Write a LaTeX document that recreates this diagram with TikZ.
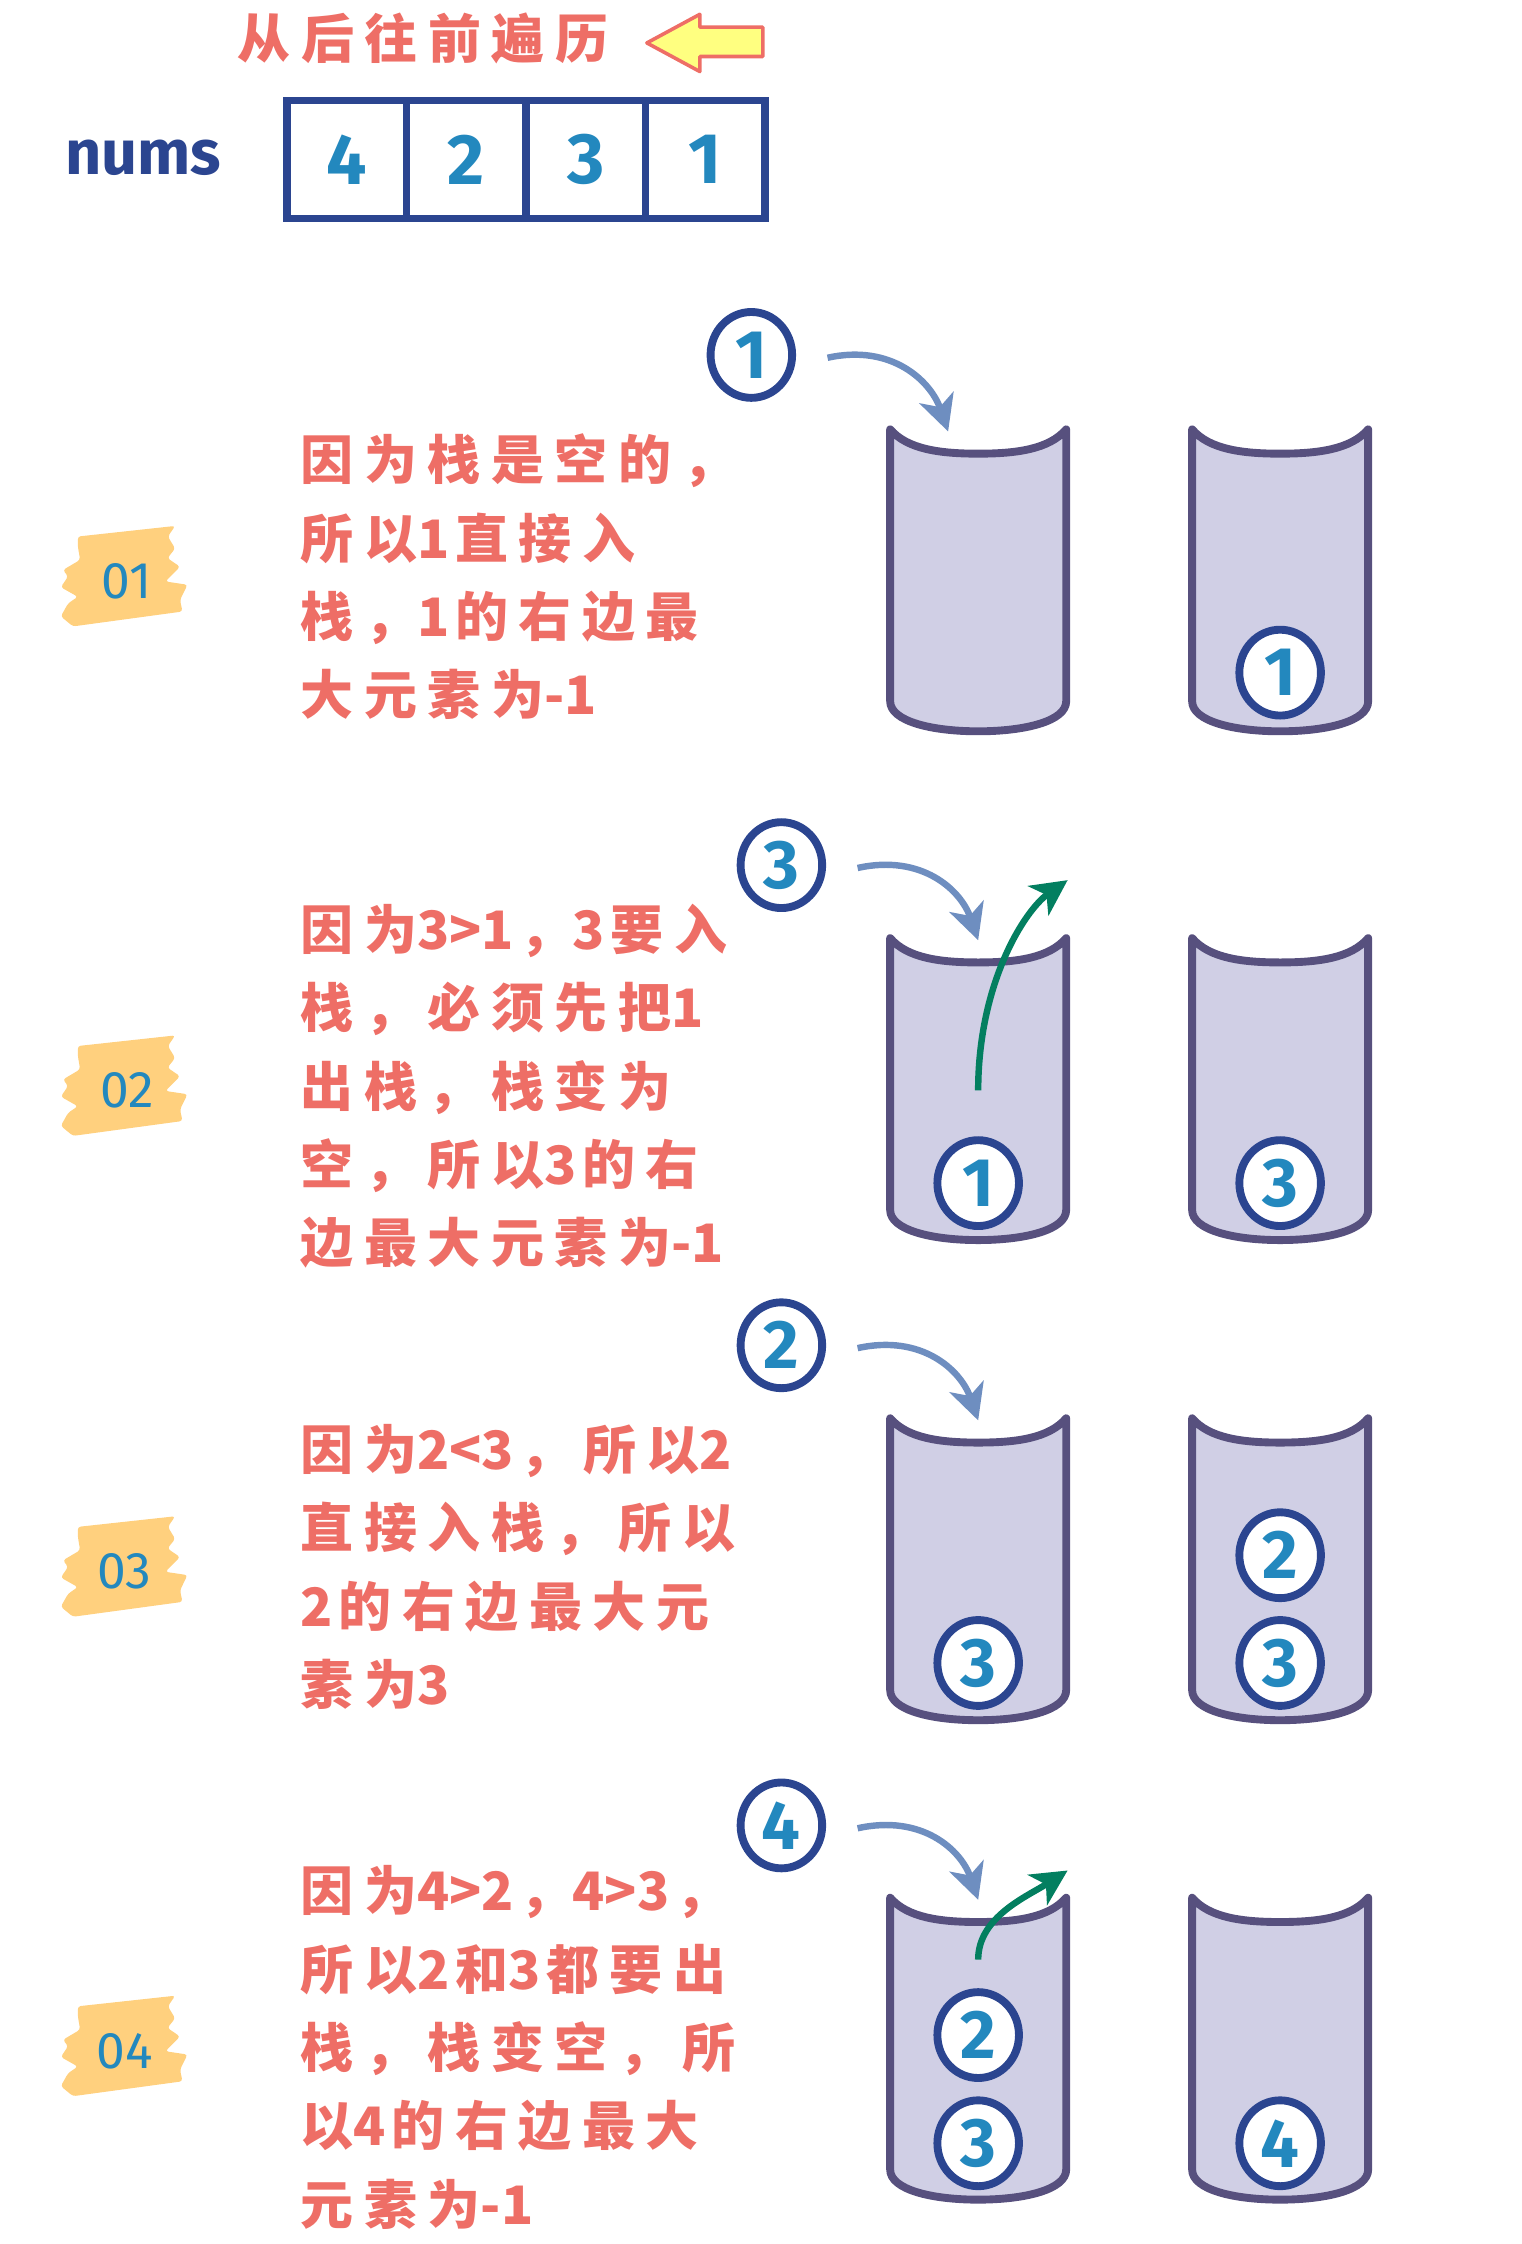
\documentclass[tikz,border=0pt]{standalone}
\usepackage{fontspec}
\setmainfont{Fira Sans}
\newfontfamily\cjk[LetterSpace=20]{Noto Sans CJK SC}
\newfontfamily\cjkplain{Noto Sans CJK SC}
\newcommand{\lat}[1]{{\cjkplain\bfseries #1}\kern4pt}
\usetikzlibrary{positioning, arrows.meta, shapes.geometric}
\definecolor{notered}{HTML}{EE6E66}
\definecolor{navy}{HTML}{2B4590}
\definecolor{digit}{HTML}{2388BE}
\definecolor{stackline}{HTML}{57507E}
\definecolor{stackfill}{HTML}{D0CFE5}
\definecolor{pushblue}{HTML}{6E8EC0}
\definecolor{popgreen}{HTML}{037F60}
\definecolor{tapefill}{HTML}{FFD07E}
\definecolor{hintfill}{HTML}{FFFF80}
\tikzset{
  note/.style={anchor=north west, inner sep=0pt, align=left, text=notered,
               font=\cjk\bfseries\fontsize{37pt}{54.7pt}\selectfont},
  headline/.style={anchor=west, inner sep=0pt, text=notered,
               font=\cjk\bfseries\fontsize{37pt}{37pt}\selectfont},
  ball/.style={ellipse, draw=navy, line width=5.5pt, fill=white, inner sep=0pt,
               minimum width=57pt, minimum height=60pt, text=digit,
               font=\bfseries\fontsize{48pt}{48pt}\selectfont},
  cell/.style={draw=navy, line width=5pt, minimum width=83.5pt, minimum height=82pt,
               inner sep=0pt, outer sep=0pt, text=digit,
               font=\bfseries\fontsize{50pt}{50pt}\selectfont},
  tag/.style={text=digit, inner sep=0pt, font=\fontsize{36pt}{36pt}\selectfont},
  push/.style={-{Stealth[length=25pt, width=25pt, inset=7pt]}, line width=4.5pt, draw=pushblue},
  pop/.style={-{Stealth[length=25pt, width=25pt, inset=7pt]}, line width=4.5pt, draw=popgreen},
  stackbody/.style={draw=stackline, fill=stackfill, line width=5.5pt, line join=round},
  stack/.pic={
    \path[stackbody] (0,0) .. controls (12,14) and (35,17) .. (61.5,17)
      .. controls (88,17) and (111,14) .. (123,0) -- (123,190)
      .. controls (123,204) and (94,211) .. (61.5,211)
      .. controls (29,211) and (0,204) .. (0,190) -- cycle;
    \coordinate (-rim) at (61.5,1.5);
  },
  tape/.pic={
    \fill[tapefill, rounded corners=2pt] (-33.6,-28.1) -- (34.4,-35.5) -- (29.3,-28.1)
      -- (34.4,-19.7) -- (29,-13) -- (37.8,-7) -- (27.6,3.3) -- (43,5.6) -- (37.8,16.2)
      -- (39.5,24.3) -- (-37,34.7) -- (-45.5,27.7) -- (-40.4,18.6) -- (-33.6,14)
      -- (-45.5,7.3) -- (-40.4,-0.2) -- (-44,-4.7) -- (-32,-11.8) -- (-33.6,-21.1) -- cycle;
  },
}
\begin{document}
\begin{tikzpicture}[x=1pt, y=-1pt]
\useasboundingbox (0,0) rectangle (1063,1568);
% header
\node[headline] (head) at (166,27) {从后往前遍历};
\draw[draw=notered, fill=hintfill, line width=2.5pt, line join=round]
  (452,30) -- (489,10) -- (489,19) -- (533,19) -- (533,39.5) -- (489,39.5) -- (489,50) -- cycle;
\node[text=navy, font=\bfseries\fontsize{44pt}{44pt}\selectfont] (nums) at (100,110) {nums};
\node[cell] (c1) at (242.25,111.5) {4};
\node[cell, right=0pt of c1] (c2) {2};
\node[cell, right=0pt of c2] (c3) {3};
\node[cell, right=0pt of c3] (c4) {1};

% step 01
\pic at (88,403) {tape};
\node[tag] (l1) at (88.5,406) {01};
\node[note] (n1) at (210,303) {因为栈是空的，\\所以\lat{1}直接入\\栈，\lat{1}的右边最\\大元素为\lat{-1}};
\pic (p1l) at (622,300) {stack};
\pic (p1r) at (833,300) {stack};
\node[ball] (a1) at (525,248) {1};
\node[ball] (s1r) at (894.5,470) {1};
\draw[push] ([shift={(22,2)}]a1.east) .. controls +(45,-10) and +(-12,-35) .. ([xshift=-21pt]p1l-rim);

% step 02
\pic at (88,759) {tape};
\node[tag] (l2) at (89,762) {02};
\node[note] (n2) at (210,631.5) {因为\lat{3>1}，\lat{3}要入\\栈，必须先把\lat{1}\\出栈，栈变为\\空，所以\lat{3}的右\\边最大元素为\lat{-1}};
\pic (p2l) at (622,655.5) {stack};
\pic (p2r) at (833,655.5) {stack};
\node[ball] (a2) at (546,604.5) {3};
\node[ball] (s2l) at (683.5,826.7) {1};
\node[ball] (s2r) at (894.5,826.7) {3};
\coordinate (out2) at (746,615);
\draw[push] ([shift={(22,2)}]a2.east) .. controls +(45,-10) and +(-12,-35) .. (p2l-rim);
\draw[pop] ([shift={(0,-32)}]s2l.north) .. controls +(0,-75) and +(-30,21) .. (out2);

% step 03
\pic at (88,1095) {tape};
\node[tag] (l3) at (87,1098) {03};
\node[note] (n3) at (210,995) {因为\lat{2<3}，所以\lat{2}\\直接入栈，所以\\\lat{2}的右边最大元\\素为\lat{3}};
\pic (p3l) at (622,991) {stack};
\pic (p3r) at (833,991) {stack};
\node[ball] (a3) at (546,940) {2};
\node[ball] (s3l) at (683.5,1162) {3};
\node[ball] (s3r) at (894.5,1162) {3};
\node[ball] (s3t) at (894.5,1086.7) {2};
\draw[push] ([shift={(22,2)}]a3.east) .. controls +(45,-10) and +(-12,-35) .. (p3l-rim);

% step 04
\pic at (88,1430) {tape};
\node[tag] (l4) at (87,1433) {04};
\node[note] (n4) at (210,1303.5) {因为\lat{4>2}，\lat{4>3}，\\所以\lat{2}和\lat{3}都要出\\栈，栈变空，所\\以\lat{4}的右边最大\\元素为\lat{-1}};
\pic (p4l) at (622,1326) {stack};
\pic (p4r) at (833,1326) {stack};
\node[ball] (a4) at (546,1275.5) {4};
\node[ball] (s4b) at (683.5,1497.6) {3};
\node[ball] (s4t) at (683.5,1422) {2};
\node[ball] (s4r) at (894.5,1497.6) {4};
\coordinate (out4) at (746,1307);
\draw[push] ([shift={(22,2)}]a4.east) .. controls +(45,-10) and +(-12,-35) .. (p4l-rim);
\draw[pop] ([shift={(0,-20)}]s4t.north) .. controls +(0,-30) and +(-28,18) .. (out4);
\end{tikzpicture}
\end{document}
